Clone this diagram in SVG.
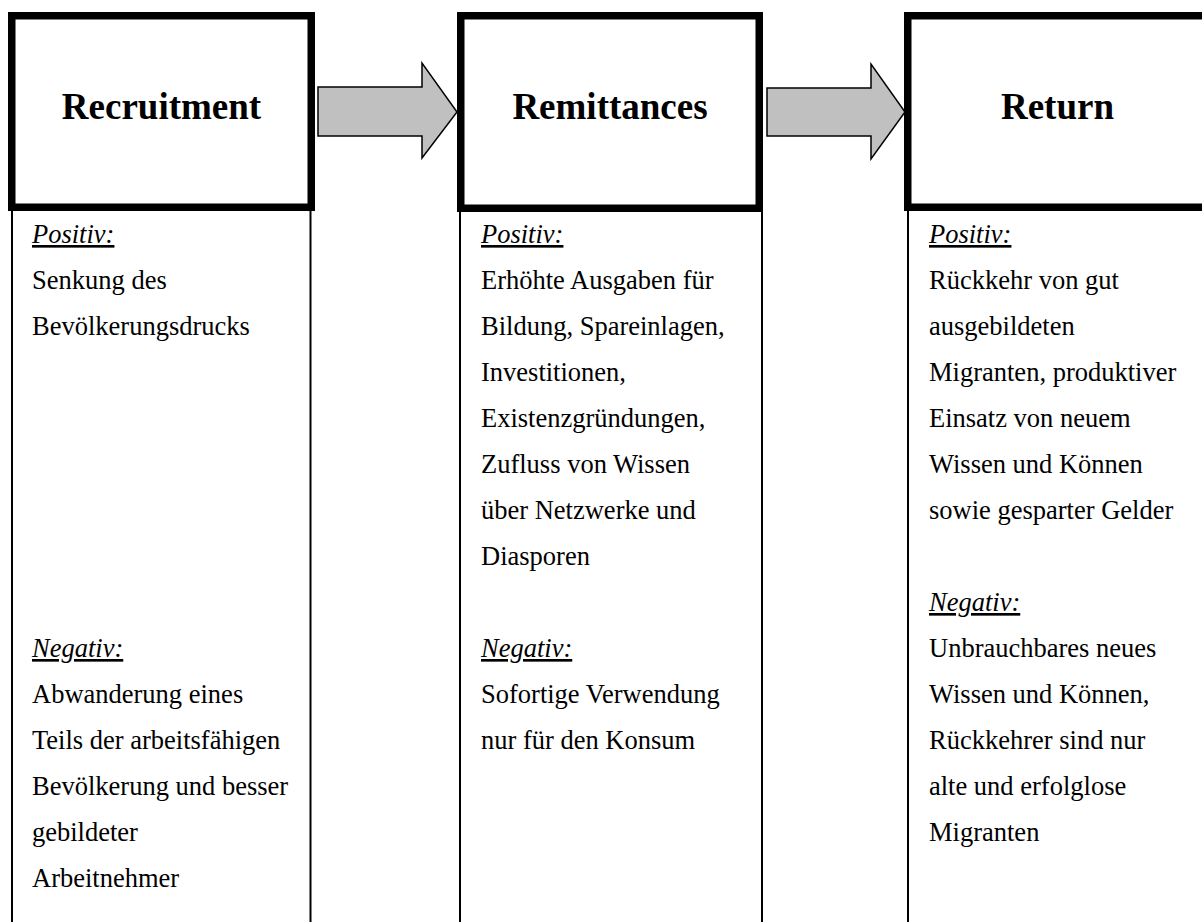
<svg xmlns="http://www.w3.org/2000/svg" width="1202" height="922" viewBox="0 0 1202 922">
  <style>
    .head { fill: #fff; stroke: #000; stroke-width: 7.5; }
    .rule { stroke: #000; stroke-width: 2; fill: none; }
    .title { font-family: "Liberation Serif", "Times New Roman", serif; font-weight: bold; font-size: 37px; fill: #000; text-anchor: middle; }
    .body { font-family: "Liberation Serif", "Times New Roman", serif; font-size: 26.5px; fill: #000; }
    .label { font-style: italic; text-decoration: underline; }
    .flow { fill: #c0c0c0; stroke: #000; stroke-width: 1.5; stroke-linejoin: miter; }
  </style>
  <rect width="1202" height="922" fill="#fff"/>

  <!-- Stage 1 -->
  <g id="recruitment">
    <line class="rule" x1="12" y1="211" x2="12" y2="922"/>
    <line class="rule" x1="310.5" y1="211" x2="310.5" y2="922"/>
    <rect class="head" x="11.75" y="15.75" width="299.5" height="191.5"/>
    <text class="title" x="161.5" y="119">Recruitment</text>
    <text class="body">
      <tspan class="label" x="32" y="243">Positiv:</tspan>
      <tspan x="32" y="289">Senkung des</tspan>
      <tspan x="32" y="335">Bevölkerungsdrucks</tspan>
      <tspan class="label" x="32" y="657">Negativ:</tspan>
      <tspan x="32" y="703">Abwanderung eines</tspan>
      <tspan x="32" y="749">Teils der arbeitsfähigen</tspan>
      <tspan x="32" y="795">Bevölkerung und besser</tspan>
      <tspan x="32" y="841">gebildeter</tspan>
      <tspan x="32" y="887">Arbeitnehmer</tspan>
    </text>
  </g>

  <!-- Stage 2 -->
  <g id="remittances">
    <line class="rule" x1="460" y1="212" x2="460" y2="922"/>
    <line class="rule" x1="762" y1="212" x2="762" y2="922"/>
    <rect class="head" x="460.75" y="15.75" width="298.5" height="192.5"/>
    <text class="title" x="610" y="119">Remittances</text>
    <text class="body">
      <tspan class="label" x="481" y="243">Positiv:</tspan>
      <tspan x="481" y="289">Erhöhte Ausgaben für</tspan>
      <tspan x="481" y="335">Bildung, Spareinlagen,</tspan>
      <tspan x="481" y="381">Investitionen,</tspan>
      <tspan x="481" y="427">Existenzgründungen,</tspan>
      <tspan x="481" y="473">Zufluss von Wissen</tspan>
      <tspan x="481" y="519">über Netzwerke und</tspan>
      <tspan x="481" y="565">Diasporen</tspan>
      <tspan class="label" x="481" y="657">Negativ:</tspan>
      <tspan x="481" y="703">Sofortige Verwendung</tspan>
      <tspan x="481" y="749">nur für den Konsum</tspan>
    </text>
  </g>

  <!-- Stage 3 -->
  <g id="return">
    <line class="rule" x1="908" y1="211" x2="908" y2="922"/>
    <rect class="head" x="907.75" y="15.75" width="299.5" height="191.5"/>
    <text class="title" x="1057.5" y="119">Return</text>
    <text class="body">
      <tspan class="label" x="929" y="243">Positiv:</tspan>
      <tspan x="929" y="289">Rückkehr von gut</tspan>
      <tspan x="929" y="335">ausgebildeten</tspan>
      <tspan x="929" y="381">Migranten, produktiver</tspan>
      <tspan x="929" y="427">Einsatz von neuem</tspan>
      <tspan x="929" y="473">Wissen und Können</tspan>
      <tspan x="929" y="519">sowie gesparter Gelder</tspan>
      <tspan class="label" x="929" y="611">Negativ:</tspan>
      <tspan x="929" y="657">Unbrauchbares neues</tspan>
      <tspan x="929" y="703">Wissen und Können,</tspan>
      <tspan x="929" y="749">Rückkehrer sind nur</tspan>
      <tspan x="929" y="795">alte und erfolglose</tspan>
      <tspan x="929" y="841">Migranten</tspan>
    </text>
  </g>

  <!-- Block arrows between stages -->
  <g id="connectors">
    <polygon class="flow" points="318,87 422,87 422,63 457,112 422,158 422,136 318,136"/>
    <polygon class="flow" points="767,88 871,88 871,64 905,112 871,159 871,136 767,136"/>
  </g>
</svg>
